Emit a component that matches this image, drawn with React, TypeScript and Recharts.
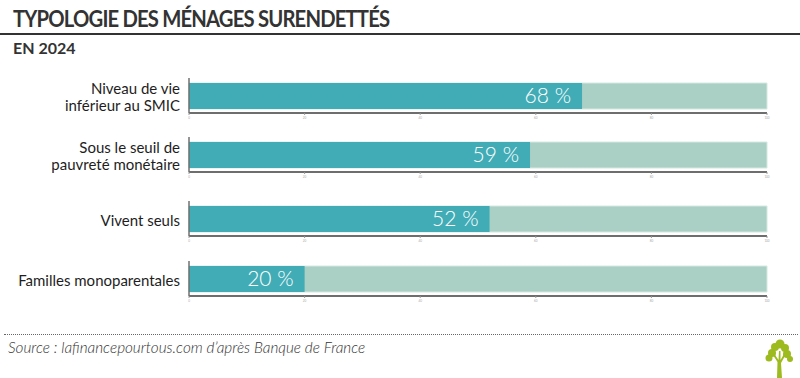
import React from "react";
import { BarChart, Bar, XAxis, YAxis, LabelList } from "recharts";

// Typologie des ménages surendettés, en 2024 (% des ménages)
const CATEGORIES = [
    "Niveau de vie\ninférieur au SMIC",
    "Sous le seuil de\npauvreté monétaire",
    "Vivent seuls",
    "Familles monoparentales",
];
const VALUES = [68, 59, 52, 20];
const X_TICKS = [0, 20, 40, 60, 80, 100];

const TEAL = "#41ACB6";
const LIGHT = "#AACFC4";
const ROW_TOPS = [78, 137, 201, 261];

function CategoryTick(props: any) {
    const { y, payload } = props;
    const lines: string[] = String(payload.value).split("\n");
    const offsets = lines.length === 2 ? [-7, 10] : [2];
    return (
        <g>
            {lines.map((line, i) => (
                <text
                    key={i}
                    x={180}
                    y={y + offsets[i]}
                    dy="0.35em"
                    textAnchor="end"
                    fill="#1e1e1e"
                    fontSize={15}
                    fontFamily="Lato, 'Open Sans', sans-serif"
                >
                    {line}
                </text>
            ))}
        </g>
    );
}

function Row({ name, value, top }: { name: string; value: number; top: number }) {
    return (
        <div style={{ position: "absolute", left: 0, top }}>
            <BarChart
                width={800}
                height={48}
                layout="vertical"
                data={[{ name, value }]}
                margin={{ top: 0, right: 33, left: 0, bottom: 0 }}
            >
                <XAxis
                    type="number"
                    domain={[0, 100]}
                    ticks={X_TICKS}
                    interval={0}
                    height={13}
                    axisLine={{ stroke: "#6e6e6e", strokeWidth: 2 }}
                    tickLine={{ stroke: "#999" }}
                    tickSize={2}
                    tick={{ fontSize: 3, fill: "#aaa" }}
                />
                <YAxis
                    type="category"
                    dataKey="name"
                    width={189}
                    interval={0}
                    axisLine={{ stroke: "#707070", strokeWidth: 1.5 }}
                    tickLine={false}
                    tick={<CategoryTick />}
                />
                <Bar
                    dataKey="value"
                    fill={TEAL}
                    barSize={26}
                    background={{ fill: LIGHT, stroke: "#d4e9e3", strokeWidth: 1 }}
                    isAnimationActive={false}
                >
                    <LabelList
                        dataKey="value"
                        position="insideRight"
                        offset={11}
                        fill="#ffffff"
                        fontSize={21}
                        fontWeight={300}
                        fontFamily="Lato, 'Open Sans', sans-serif"
                        formatter={(v: any) => `${v} %`}
                    />
                </Bar>
            </BarChart>
        </div>
    );
}

function TreeLogo() {
    return (
        <svg width={30} height={40} viewBox="0 0 30 40" style={{ position: "absolute", left: 764, top: 338 }}>
            <g fill="#9DBA1E">
                <path d="M13 40 L13.5 24 L9 17 L10.5 16 L14.5 22 L15 13 L16.5 13 L16.5 22 L20 16 L21.5 17 L17 25 L18 40 Z" />
                <circle cx="8" cy="15" r="4" />
                <circle cx="5" cy="20" r="3.5" />
                <circle cx="11" cy="9" r="4" />
                <circle cx="16" cy="6" r="4.5" />
                <circle cx="21" cy="10" r="4" />
                <circle cx="23" cy="16" r="4" />
                <circle cx="26" cy="21" r="3" />
            </g>
        </svg>
    );
}

export default function App() {
    return (
        <div
            style={{
                position: "absolute",
                left: 0,
                top: 0,
                width: 800,
                height: 378,
                background: "#ffffff",
                overflow: "hidden",
                fontFamily: "Lato, sans-serif",
            }}
        >
            <div
                style={{
                    position: "absolute",
                    left: 13,
                    top: 5,
                    fontSize: 22,
                    fontWeight: 700,
                    color: "#333",
                    letterSpacing: -0.9,
                    whiteSpace: "nowrap",
                    transform: "scaleX(0.92)",
                    transformOrigin: "left center",
                }}
            >
                TYPOLOGIE DES MÉNAGES SURENDETTÉS
            </div>
            <div style={{ position: "absolute", left: 0, top: 33, width: 800, height: 1.5, background: "#333" }} />
            <div
                style={{
                    position: "absolute",
                    left: 13,
                    top: 38,
                    fontSize: 16,
                    fontWeight: 700,
                    color: "#333",
                }}
            >
                EN 2024
            </div>

            {CATEGORIES.map((c, i) => (
                <Row key={c} name={c} value={VALUES[i]} top={ROW_TOPS[i]} />
            ))}

            <div
                style={{
                    position: "absolute",
                    left: 4,
                    top: 334,
                    width: 794,
                    borderTop: "1.5px dotted #666",
                }}
            />
            <div
                style={{
                    position: "absolute",
                    left: 8,
                    top: 338,
                    fontSize: 15.3,
                    fontStyle: "italic",
                    fontWeight: 300,
                    color: "#333",
                    whiteSpace: "nowrap",
                }}
            >
                Source : lafinancepourtous.com d’après Banque de France
            </div>
            <TreeLogo />
        </div>
    );
}
